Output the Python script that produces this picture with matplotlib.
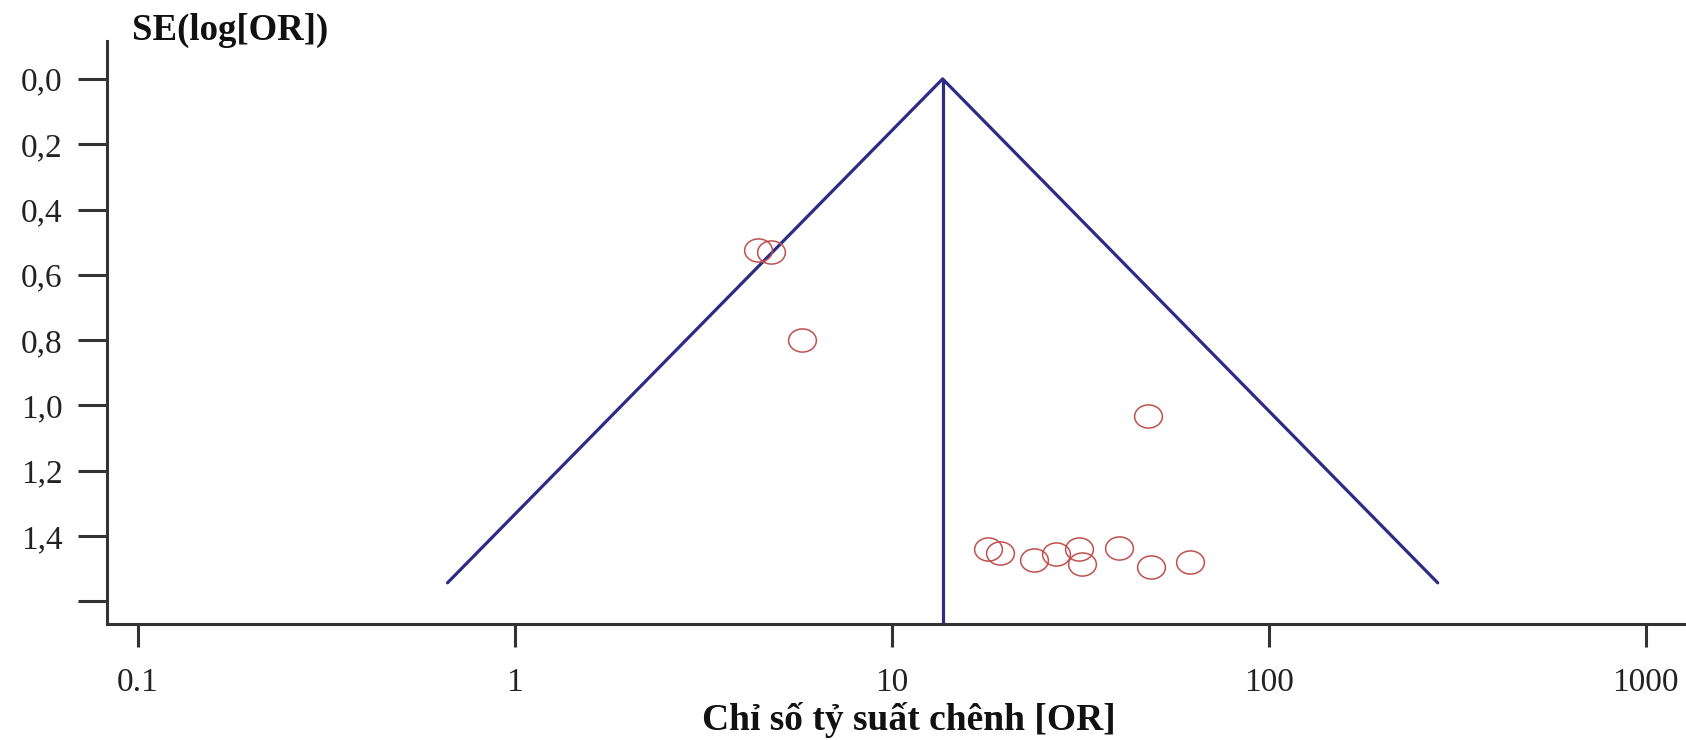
import numpy as np
import matplotlib.pyplot as plt
from matplotlib.path import Path

# funnel plot data
or_values = [4.43, 4.78, 5.79, 47.9, 18.0, 19.4, 23.9, 27.3, 31.4, 31.9, 40.1, 48.7, 61.8]
se_values = [0.524, 0.531, 0.799, 1.031, 1.440, 1.453, 1.473, 1.455, 1.440, 1.485, 1.436, 1.494, 1.479]
pooled_or = 13.65
se_max = 1.543

y_ticks = [0.0, 0.2, 0.4, 0.6, 0.8, 1.0, 1.2, 1.4, 1.6]
y_ticklabels = ['0,0', '0,2', '0,4', '0,6', '0,8', '1,0', '1,2', '1,4', '']
x_ticks = [0.1, 1, 10, 100, 1000]
x_ticklabels = ['0.1', '1', '10', '100', '1000']

plt.rcParams['font.family'] = ['Liberation Serif', 'DejaVu Serif']

fig = plt.figure(figsize=(16.86, 7.40), dpi=100)
ax = fig.add_axes([0.0635, 0.1568, 0.9365, 0.7882])

line_col = '#2e2b87'
axis_col = '#333333'

# funnel
lo = pooled_or * np.exp(-1.96 * se_max)
hi = pooled_or * np.exp(1.96 * se_max)
ax.plot([lo, pooled_or, hi], [se_max, 0, se_max], color=line_col, lw=2.3, solid_capstyle='round')
ax.vlines(pooled_or, 0, 1.669, color=line_col, lw=2.3)

# slightly wide circle marker
circ = Path.unit_circle()
ell = Path(circ.vertices * np.array([1.2, 1.0]), circ.codes)
ax.plot(or_values, se_values, linestyle='none', marker=ell, markersize=20,
        markerfacecolor='none', markeredgecolor='#c0504d', markeredgewidth=1.1)

ax.set_xscale('log')
ax.set_xlim(0.0829, 1280)
ax.set_ylim(1.669, -0.117)

ax.set_xticks(x_ticks)
ax.set_xticklabels(x_ticklabels)
ax.xaxis.set_minor_locator(plt.NullLocator())
ax.set_yticks(y_ticks)
ax.set_yticklabels(y_ticklabels)

for s in ['top', 'right']:
    ax.spines[s].set_visible(False)
for s in ['left', 'bottom']:
    ax.spines[s].set_linewidth(2.2)
    ax.spines[s].set_color(axis_col)

ax.tick_params(axis='y', length=21, width=2.2, color=axis_col, pad=11, labelsize=24, labelcolor='#222222')
ax.tick_params(axis='x', length=16.5, width=2.2, color=axis_col, pad=15, labelsize=24, labelcolor='#222222')

fig.text(132 / 1686, 1 - 30 / 740, 'SE(log[OR])', ha='left', va='center',
         fontsize=26.5, fontweight='bold', color='#111111')
fig.text(909 / 1686, 1 - 720 / 740, 'Chỉ số tỷ suất chênh [OR]', ha='center', va='center',
         fontsize=27, fontweight='bold', color='#111111')

fig.savefig('out.png', dpi=100)
